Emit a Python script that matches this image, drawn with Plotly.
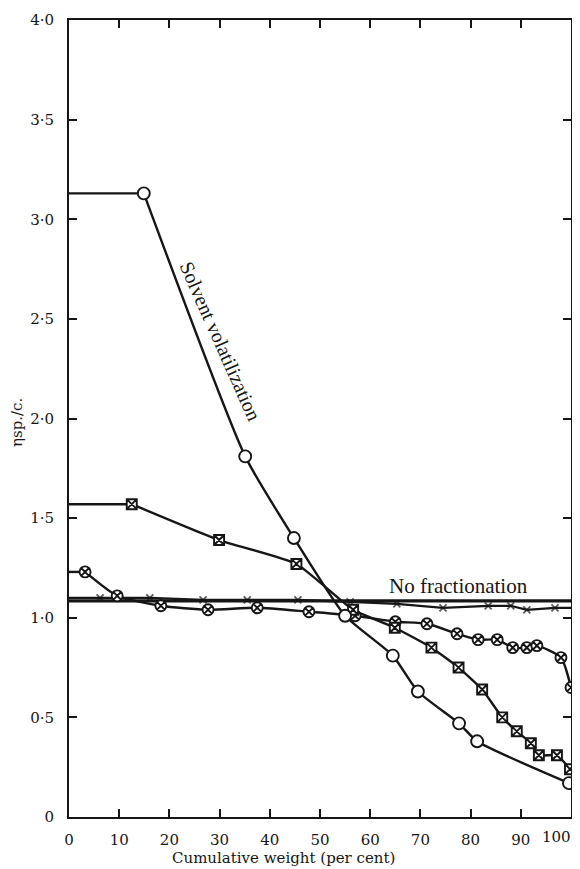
import plotly.graph_objects as go

# Solvent volatilization (open circles); first point is the start of the flat run
solv_x = [0, 14.9, 35.1, 44.8, 55.0, 64.5, 69.5, 77.7, 81.3, 99.6]
solv_y = [3.13, 3.13, 1.81, 1.40, 1.01, 0.81, 0.63, 0.47, 0.38, 0.17]

# Squares with cross
sq_x = [0, 12.5, 29.9, 45.3, 56.6, 64.9, 72.2, 77.6, 82.3, 86.3, 89.2, 92.0, 93.6, 97.2, 99.8]
sq_y = [1.57, 1.57, 1.39, 1.27, 1.04, 0.95, 0.85, 0.75, 0.64, 0.50, 0.43, 0.37, 0.31, 0.31, 0.24]

# Circles with cross
cx_x = [0, 3.2, 9.6, 18.3, 27.7, 37.5, 47.8, 57.0, 65.0, 71.3, 77.3, 81.5, 85.3, 88.4, 91.2, 93.2, 98.0, 100]
cx_y = [1.23, 1.23, 1.11, 1.06, 1.04, 1.05, 1.03, 1.01, 0.98, 0.97, 0.92, 0.89, 0.89, 0.85, 0.85, 0.86, 0.80, 0.65]

# Crosses
xs_x = [0, 6.2, 16.1, 26.7, 35.5, 45.6, 56.0, 65.3, 74.5, 83.5, 88.0, 91.2, 96.8, 100]
xs_y = [1.10, 1.10, 1.10, 1.09, 1.09, 1.09, 1.08, 1.07, 1.05, 1.06, 1.06, 1.04, 1.05, 1.05]

# No fractionation reference line
nf_x = [0, 100]
nf_y = [1.085, 1.085]

y_ticks = [0, 0.5, 1.0, 1.5, 2.0, 2.5, 3.0, 3.5, 4.0]
y_ticktext = ["0", "0·5", "1·0", "1·5", "2·0", "2·5", "3·0", "3·5", "4·0"]
x_ticks = [0, 10, 20, 30, 40, 50, 60, 70, 80, 90, 100]
x_ticktext = [str(v) for v in x_ticks]

INK = "#161616"
TICKFONT = "DejaVu Serif, serif"
TEXTFONT = "Liberation Serif, serif"

# plot area size in pixels (used to place the axis titles)
PW, PH = 502, 797

fig = go.Figure()

def add_series(x, y, symbol, msize, smoothing):
    # flat starting run (linear) then smoothed curve with markers
    fig.add_trace(go.Scatter(x=x[:2], y=y[:2], mode="lines",
                             line=dict(color=INK, width=2.4), hoverinfo="skip",
                             showlegend=False))
    fig.add_trace(go.Scatter(x=x[1:], y=y[1:], mode="lines+markers",
                             line=dict(color=INK, width=2.4, shape="spline", smoothing=smoothing),
                             marker=dict(symbol=symbol, size=msize, color="white",
                                         line=dict(color=INK, width=1.9)),
                             showlegend=False))

fig.add_trace(go.Scatter(x=nf_x, y=nf_y, mode="lines",
                         line=dict(color=INK, width=3.2), showlegend=False))
fig.add_trace(go.Scatter(x=xs_x, y=xs_y, mode="lines+markers",
                         line=dict(color=INK, width=2.2),
                         marker=dict(symbol="x-thin-open", size=[0] + [7] * (len(xs_x) - 2) + [0],
                                     color=INK, line=dict(color=INK, width=1.8)),
                         showlegend=False))
add_series(cx_x, cx_y, "circle-x", 11, 0.6)
add_series(sq_x, sq_y, "square-x", 10, 0.5)
add_series(solv_x, solv_y, "circle", 12, 0.55)

fig.add_annotation(x=30.2, y=2.39, text="Solvent volatilization", showarrow=False,
                   textangle=66, font=dict(family=TEXTFONT, size=20, color=INK))
fig.add_annotation(x=77.5, y=1.16, text="No fractionation", showarrow=False,
                   font=dict(family=TEXTFONT, size=21, color=INK))
fig.add_annotation(xref="paper", yref="paper", x=(283 - 69) / PW, y=-(858 - 817) / PH,
                   text="Cumulative weight (per cent)", showarrow=False,
                   xanchor="center", yanchor="middle",
                   font=dict(family=TICKFONT, size=15, color=INK))
fig.add_annotation(xref="paper", yref="paper", x=(17 - 69) / PW, y=(817 - 423) / PH,
                   text="ηsp./c.", showarrow=False, textangle=-90,
                   xanchor="center", yanchor="middle",
                   font=dict(family=TICKFONT, size=15, color=INK))
# last x tick label sits flush with the page edge, as in the reference
fig.add_annotation(x=x_ticks[-1], xref="x", yref="paper", y=-(837 - 817) / PH,
                   text=x_ticktext[-1], showarrow=False, xanchor="right", yanchor="middle",
                   xshift=2, font=dict(family=TICKFONT, size=15, color=INK))

axis_common = dict(showline=True, linecolor=INK, linewidth=2, mirror="ticks",
                   ticks="inside", ticklen=8, tickwidth=1.6, tickcolor=INK,
                   showgrid=False, zeroline=False, automargin=False,
                   tickfont=dict(family=TICKFONT, size=15, color=INK))

fig.update_xaxes(range=[0, 100], tickvals=x_ticks, ticktext=x_ticktext[:-1] + [""],
                 ticklabelstandoff=8, **axis_common)
fig.update_yaxes(range=[0, 4.0], tickvals=y_ticks, ticktext=y_ticktext,
                 ticklabelstandoff=10, **axis_common)

# the page body adds an 8px offset, so the figure is 8px smaller and shifted
fig.update_layout(width=572, height=861, margin=dict(l=61, r=9, t=12, b=52),
                  plot_bgcolor="white", paper_bgcolor="white")

fig.write_html("out.html")
